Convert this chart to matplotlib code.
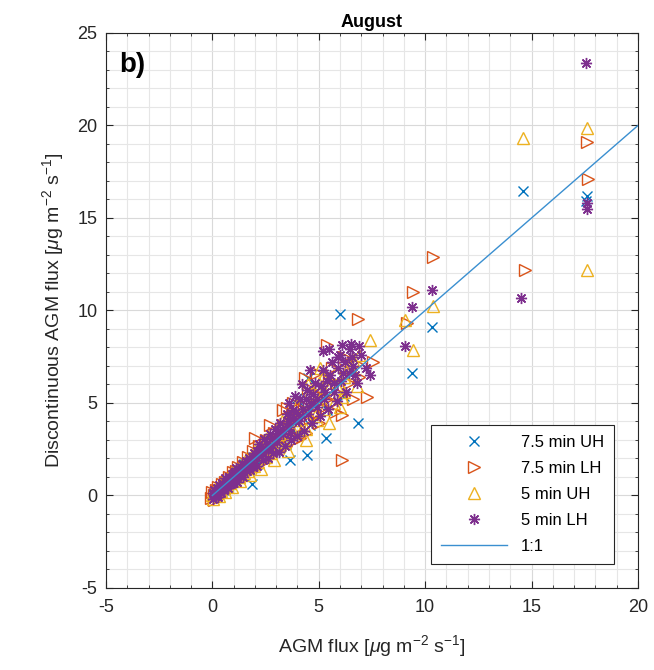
import numpy as np
import matplotlib.pyplot as plt
from matplotlib.ticker import MultipleLocator

plt.rcParams['font.family'] = ['Liberation Sans', 'DejaVu Sans']
plt.rcParams['mathtext.fontset'] = 'custom'
plt.rcParams['mathtext.rm'] = 'Liberation Sans'
plt.rcParams['mathtext.it'] = 'Liberation Sans:italic'
plt.rcParams['axes.unicode_minus'] = False

# 7.5 min UH (blue x)
uh75_x = [0.05, 0.15, 0.25, 0.35, 0.5, 0.6, 0.75, 0.9, 1.05, 1.2, 1.35, 1.5, 1.7, 1.9, 2.1,
          2.3, 2.5, 2.7, 2.95, 3.2, 3.45, 3.7, 4.0, 4.3, 4.6, 5.0, 5.4, 5.8, 6.2,
          1.85, 3.65, 4.43, 5.35, 6.86, 3.96, 4.5, 6.0, 9.37, 10.3, 14.6, 17.6, 17.55]
uh75_y = [0.0, 0.25, 0.1, 0.45, 0.3, 0.7, 0.5, 1.0, 0.8, 1.35, 1.05, 1.7, 1.4, 2.1, 1.7,
          2.5, 2.05, 3.0, 2.4, 3.5, 2.8, 4.1, 3.3, 4.8, 3.8, 5.5, 4.6, 6.2, 5.4,
          0.6, 1.92, 2.19, 3.1, 3.9, 5.25, 6.35, 9.8, 6.6, 9.1, 16.45, 16.2, 15.9]

# 7.5 min LH (orange right triangles)
lh75_x = [-0.05, 0.0, 0.06, 0.1, 0.15, 0.2, 0.26, 0.32, 0.37, 0.43, 0.48, 0.54, 0.6, 0.66,
          0.72, 0.79, 0.86, 0.92, 0.99, 1.06, 1.13, 1.2, 1.28, 1.35, 1.43, 1.5, 1.58, 1.66,
          1.74, 1.82, 1.9, 2.0, 2.1, 2.2, 2.3, 2.4, 2.5, 2.62, 2.75, 2.88, 3.0, 3.15, 3.3,
          3.45, 3.6, 3.75, 3.9, 4.05, 4.2, 4.4, 4.6, 4.8, 5.0, 5.25, 5.5, 5.75, 6.0, 6.3,
          6.6, 6.9,
          0.3, 0.7, 1.1, 1.5, 1.9, 2.25, 2.6, 2.95, 3.3, 3.6, 3.95, 4.3, 4.7, 5.1, 5.4,
          5.8, 4.5, 3.8, 3.3, 4.9, 6.2, 5.6, 4.1, 4.9, 5.6, 6.4, 6.8,
          6.08, 2.0, 2.7, 3.5, 4.35, 5.37, 6.86, 7.25, 7.55, 6.1, 9.13, 9.44, 10.37, 14.7,
          17.65, 17.6]
lh75_y = [-0.15, 0.2, 0.05, -0.25, 0.3, 0.12, 0.45, 0.05, 0.3, 0.6, 0.2, 0.45, 0.75, 0.35,
          0.6, 1.0, 0.55, 0.85, 1.25, 0.8, 1.1, 1.55, 0.95, 1.3, 1.8, 1.15, 1.55, 2.1,
          1.35, 1.75, 2.4, 1.55, 2.05, 2.7, 1.75, 2.35, 3.0, 2.0, 2.6, 3.4, 2.35, 2.95, 3.8,
          2.7, 3.3, 4.3, 3.0, 3.7, 4.9, 3.4, 4.2, 5.5, 3.9, 4.8, 6.2, 4.5, 5.5, 6.8,
          5.2, 6.4,
          0.25, 0.8, 1.3, 1.5, 1.95, 2.3, 2.9, 3.0, 3.35, 3.9, 4.2, 4.6, 5.0, 5.4, 5.2,
          6.1, 5.8, 5.0, 4.6, 6.6, 7.5, 6.9, 3.1, 4.4, 5.0, 6.1, 7.1,
          1.92, 3.1, 3.8, 4.75, 6.35, 8.14, 9.52, 5.34, 7.2, 4.35, 9.3, 11.0, 12.9, 12.2,
          17.1, 19.1]

# 5 min UH (yellow up triangles)
uh5_x = [0.0, 0.04, 0.09, 0.14, 0.19, 0.24, 0.3, 0.36, 0.41, 0.47, 0.53, 0.59, 0.65, 0.71,
         0.78, 0.85, 0.92, 0.99, 1.07, 1.15, 1.23, 1.31, 1.4, 1.48, 1.57, 1.66, 1.75, 1.85,
         1.95, 2.05, 2.16, 2.27, 2.38, 2.5, 2.62, 2.75, 2.88, 3.0, 3.14, 3.28, 3.42, 3.56,
         3.7, 3.85, 4.0, 4.2, 4.4, 4.6, 4.8, 5.0, 5.25, 5.5, 5.8, 6.1, 6.4, 6.8,
         0.25, 0.6, 1.0, 1.35, 1.7, 2.1, 2.45, 2.8, 3.2, 3.5, 3.9, 4.3, 4.65, 5.1, 5.5,
         5.9, 6.2, 6.6, 4.5, 5.2, 6.5, 6.2, 5.7, 4.9, 4.4,
         5.06, 7.4, 6.6, 6.9, 6.0, 9.05, 9.44, 10.35, 14.6, 17.6, 17.6]
uh5_y = [0.05, -0.2, 0.25, 0.0, 0.4, 0.15, -0.05, 0.5, 0.25, 0.75, 0.4, 0.2, 0.85, 0.5,
         1.05, 0.65, 0.45, 1.25, 0.85, 1.45, 1.0, 0.8, 1.7, 1.2, 1.95, 1.35, 1.1, 2.2,
         1.6, 2.5, 1.8, 1.45, 2.8, 2.1, 3.2, 2.3, 1.9, 3.5, 2.7, 4.0, 2.9, 2.4,
         4.4, 3.4, 4.9, 3.6, 3.0, 5.6, 4.3, 6.1, 4.7, 3.9, 6.6, 5.3, 7.0, 5.9,
         0.3, 0.55, 1.05, 1.4, 1.6, 2.2, 2.5, 2.9, 3.3, 3.8, 4.1, 4.5, 4.9, 5.3, 5.8,
         5.8, 6.4, 6.6, 6.0, 6.4, 6.9, 5.6, 5.0, 4.1, 3.6,
         6.9, 8.4, 7.3, 7.6, 4.8, 9.5, 7.86, 10.24, 19.3, 19.85, 12.2]

# 5 min LH (purple asterisks)
lh5_x = [0.02, 0.05, 0.08, 0.12, 0.16, 0.2, 0.25, 0.3, 0.33, 0.38, 0.42, 0.46, 0.5, 0.55,
         0.6, 0.64, 0.68, 0.72, 0.77, 0.82, 0.86, 0.9, 0.95, 1.0, 1.05, 1.1, 1.15, 1.2,
         1.26, 1.32, 1.38, 1.44, 1.5, 1.56, 1.62, 1.7, 1.76, 1.82, 1.9, 1.97, 2.05, 2.12,
         2.2, 2.28, 2.36, 2.45, 2.53, 2.6, 2.7, 2.78, 2.86, 2.95, 3.05, 3.12, 3.2, 3.3,
         3.4, 3.5, 3.6, 3.7, 3.8, 3.9, 4.0, 4.1, 4.2, 4.32, 4.45, 4.55, 4.68, 4.8, 4.92,
         5.05, 5.18, 5.3, 5.45, 5.6, 5.72, 5.85, 6.0, 6.15, 6.3, 6.45, 6.6, 6.8, 7.0, 7.2,
         0.1, 0.22, 0.35, 0.48, 0.62, 0.75, 0.88, 1.02, 1.12, 1.25, 1.4, 1.55, 1.68, 1.8,
         1.95, 2.08, 2.25, 2.4, 2.55, 2.68, 2.82, 2.98, 3.1, 3.25, 3.38, 3.55, 3.65, 3.82,
         3.95, 4.08, 4.25, 4.4, 4.5, 4.65, 4.75, 4.9, 5.1, 5.25, 5.4, 5.55, 5.7, 5.9, 6.05,
         6.25, 6.4, 6.55, 6.7, 5.2, 5.5, 4.6, 4.2, 3.9, 3.6,
         6.1, 6.5, 6.9, 5.9, 7.4, 9.05, 9.37, 10.3, 14.5, 17.56, 17.6, 17.6]
lh5_y = [0.12, -0.2, 0.3, 0.1, -0.05, 0.38, -0.1, 0.35, 0.55, 0.3, 0.15, 0.65, 0.5, 0.3,
         0.95, 0.55, 0.8, 0.4, 1.0, 0.85, 0.6, 1.15, 0.7, 1.05, 0.85, 1.5, 0.75, 1.4,
         1.3, 1.05, 1.7, 0.98, 1.5, 1.85, 1.35, 2.05, 1.4, 1.9, 1.55, 2.3, 2.1, 1.6,
         2.8, 2.15, 1.9, 3.05, 2.5, 2.05, 3.3, 2.75, 2.3, 3.6, 2.9, 2.35, 3.9, 3.3,
         2.7, 4.4, 3.7, 3.0, 4.6, 4.0, 3.2, 5.2, 4.3, 3.5, 5.7, 4.8, 3.9, 6.1, 5.2,
         4.3, 6.8, 5.6, 4.7, 7.2, 6.1, 5.1, 7.6, 6.6, 5.6, 7.9, 7.0, 6.1, 7.6, 6.9,
         0.05, 0.25, 0.42, 0.4, 0.7, 0.7, 0.9, 1.2, 1.1, 1.15, 1.45, 1.6, 1.75, 1.65,
         2.0, 2.4, 2.45, 2.5, 2.8, 2.6, 3.1, 3.2, 3.4, 3.6, 3.5, 4.0, 3.4, 4.2,
         4.5, 4.0, 4.7, 5.2, 4.4, 5.0, 5.5, 4.8, 5.9, 5.2, 6.2, 6.5, 5.6, 6.9, 6.2,
         7.2, 6.6, 7.5, 6.5, 7.8, 7.9, 6.8, 6.0, 5.4, 5.0,
         8.15, 8.2, 8.1, 7.5, 6.5, 8.08, 10.2, 11.1, 10.66, 23.4, 15.5, 15.8]

one_to_one = [0, 20]

c_blue = '#0072BD'
c_orange = '#D95319'
c_yellow = '#EDB120'
c_purple = '#7E2F8E'

fig = plt.figure(figsize=(6.54, 6.70), dpi=100)
ax = fig.add_axes([0.162, 0.1224, 0.8135, 0.8284])

ax.plot(uh75_x, uh75_y, linestyle='none', marker='x', ms=7, mew=1.0, color=c_blue, label='7.5 min UH')
ax.plot(lh75_x, lh75_y, linestyle='none', marker='>', ms=9, mew=1.0, mfc='none', color=c_orange, label='7.5 min LH')
ax.plot(uh5_x, uh5_y, linestyle='none', marker='^', ms=9, mew=1.0, mfc='none', color=c_yellow, label='5 min UH')
ax.plot(lh5_x, lh5_y, linestyle='none', marker=(8, 2, 0), ms=8, mew=1.0, color=c_purple, label='5 min LH')
ax.plot(one_to_one, one_to_one, color='#3a8fd0', lw=1.0, label='1:1')

ax.set_xlim(-5, 20)
ax.set_ylim(-5, 25)
ax.xaxis.set_major_locator(MultipleLocator(5))
ax.yaxis.set_major_locator(MultipleLocator(5))
ax.xaxis.set_minor_locator(MultipleLocator(1))
ax.yaxis.set_minor_locator(MultipleLocator(1))
ax.grid(which='major', color='#d9d9d9', lw=0.8)
ax.grid(which='minor', color='#e6e6e6', lw=0.8)
ax.set_axisbelow(True)
ax.tick_params(which='both', direction='in', top=True, right=True, labelsize=13, colors='#262626')
ax.tick_params(which='major', length=5)
ax.tick_params(which='minor', length=2.5)
ax.tick_params(axis='x', pad=8)
ax.tick_params(axis='y', pad=6)
for s in ax.spines.values():
    s.set_color('#262626')
    s.set_linewidth(0.8)

ax.set_xlabel(r'AGM flux [$\mu$g m$^{-2}$ s$^{-1}$]', fontsize=14, color='#262626', labelpad=12)
ax.set_ylabel(r'Discontinuous AGM flux [$\mu$g m$^{-2}$ s$^{-1}$]', fontsize=14, color='#262626', labelpad=8)
ax.set_title('August', fontsize=13, fontweight='bold', pad=4)
ax.text(0.025, 0.965, 'b)', transform=ax.transAxes, fontsize=20, fontweight='bold', va='top', ha='left')

leg = ax.legend(loc='lower right', bbox_to_anchor=(0.97, 0.029), fontsize=12, handlelength=4,
                labelspacing=0.65, fancybox=False, framealpha=1, edgecolor='#262626', borderpad=0.6)
leg.get_frame().set_linewidth(0.8)

fig.savefig('out.png', dpi=100)
